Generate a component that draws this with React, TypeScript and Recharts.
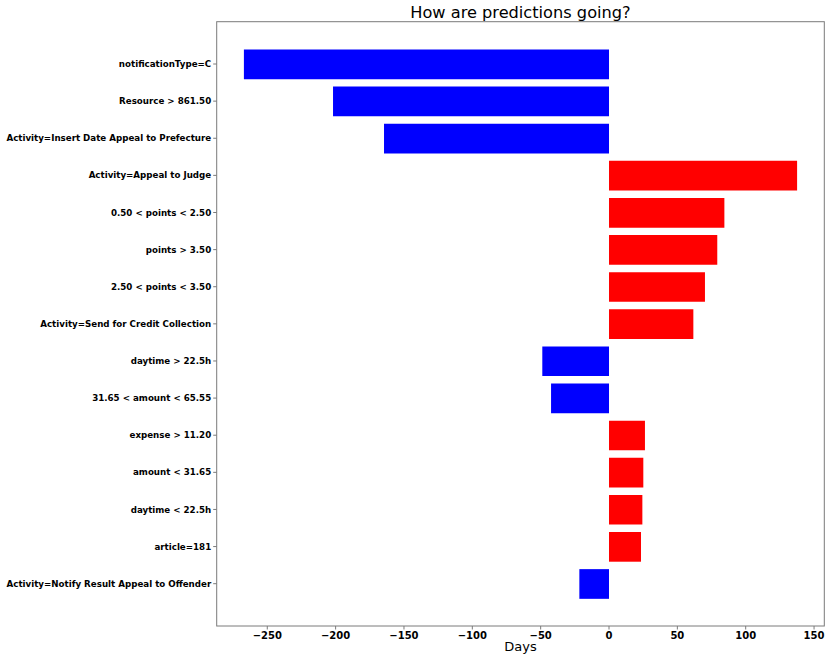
import React from 'react';
import { BarChart, Bar, XAxis, YAxis, Cell } from 'recharts';

const features = [
  'notificationType=C',
  'Resource > 861.50',
  'Activity=Insert Date Appeal to Prefecture',
  'Activity=Appeal to Judge',
  '0.50 < points < 2.50',
  'points > 3.50',
  '2.50 < points < 3.50',
  'Activity=Send for Credit Collection',
  'daytime > 22.5h',
  '31.65 < amount < 65.55',
  'expense > 11.20',
  'amount < 31.65',
  'daytime < 22.5h',
  'article=181',
  'Activity=Notify Result Appeal to Offender',
];

const contributions = [
  -267.1, -201.9, -164.6, 137.6, 84.4, 79.2, 70.2, 61.7, -48.8, -42.4, 26.3, 25.1, 24.4, 23.4, -21.7,
];

const xTicks = [-250, -200, -150, -100, -50, 0, 50, 100, 150];

const data = features.map((feature, i) => ({ feature, value: contributions[i] }));

const FONT = '"DejaVu Sans", sans-serif';
const FRAME = '#7a7a7a';
const fmt = (v: number) => (v < 0 ? '\u2212' + Math.abs(v) : String(v));

const PLOT = { left: 216.7, top: 21.7, right: 824.3, bottom: 626 };

const YTick = (props: any) => {
  const { x, y, payload } = props;
  return (
    <text
      x={x}
      y={y}
      dy="0.355em"
      textAnchor="end"
      fill="#000"
      fontSize={8.7}
      fontWeight="bold"
      fontFamily={FONT}
    >
      {payload.value}
    </text>
  );
};

export default function App() {
  return (
    <div style={{ position: 'absolute', left: 0, top: 0, width: 830, height: 658, background: '#fff' }}>
      <div
        style={{
          position: 'absolute',
          left: PLOT.left,
          width: PLOT.right - PLOT.left,
          top: 2.8,
          textAlign: 'center',
          fontFamily: FONT,
          fontSize: 16.2,
          lineHeight: '20px',
          color: '#000',
          whiteSpace: 'nowrap',
        }}
      >
        How are predictions going?
      </div>
      <BarChart
        width={830}
        height={658}
        data={data}
        layout="vertical"
        margin={{ top: PLOT.top, right: 830 - PLOT.right, bottom: 0, left: 0 }}
        barCategoryGap={0}
      >
        <XAxis
          type="number"
          domain={[-287, 157.5]}
          ticks={xTicks}
          tickFormatter={fmt}
          allowDataOverflow
          height={658 - PLOT.bottom}
          tickSize={3.5}
          tickMargin={2}
          axisLine={false}
          stroke={FRAME}
          tick={{ fill: '#000', fontSize: 10, fontWeight: 'bold', fontFamily: FONT }}
          label={{ value: 'Days', position: 'insideBottom', offset: 7, fill: '#000', fontSize: 13, fontFamily: FONT }}
        />
        <YAxis
          type="category"
          dataKey="feature"
          width={PLOT.left}
          interval={0}
          tickSize={3.5}
          tickMargin={2}
          axisLine={false}
          stroke={FRAME}
          padding={{ top: 23.75, bottom: 23.75 }}
          tick={<YTick />}
        />
        <Bar dataKey="value" barSize={29.7} isAnimationActive={false}>
          {data.map((d, i) => (
            <Cell key={i} fill={d.value < 0 ? '#0000ff' : '#ff0000'} />
          ))}
        </Bar>
      </BarChart>
      <svg
        width={830}
        height={658}
        style={{ position: 'absolute', left: 0, top: 0, pointerEvents: 'none' }}
      >
        <rect
          x={PLOT.left}
          y={PLOT.top}
          width={PLOT.right - PLOT.left}
          height={PLOT.bottom - PLOT.top}
          fill="none"
          stroke={FRAME}
          strokeWidth={1}
        />
      </svg>
    </div>
  );
}
